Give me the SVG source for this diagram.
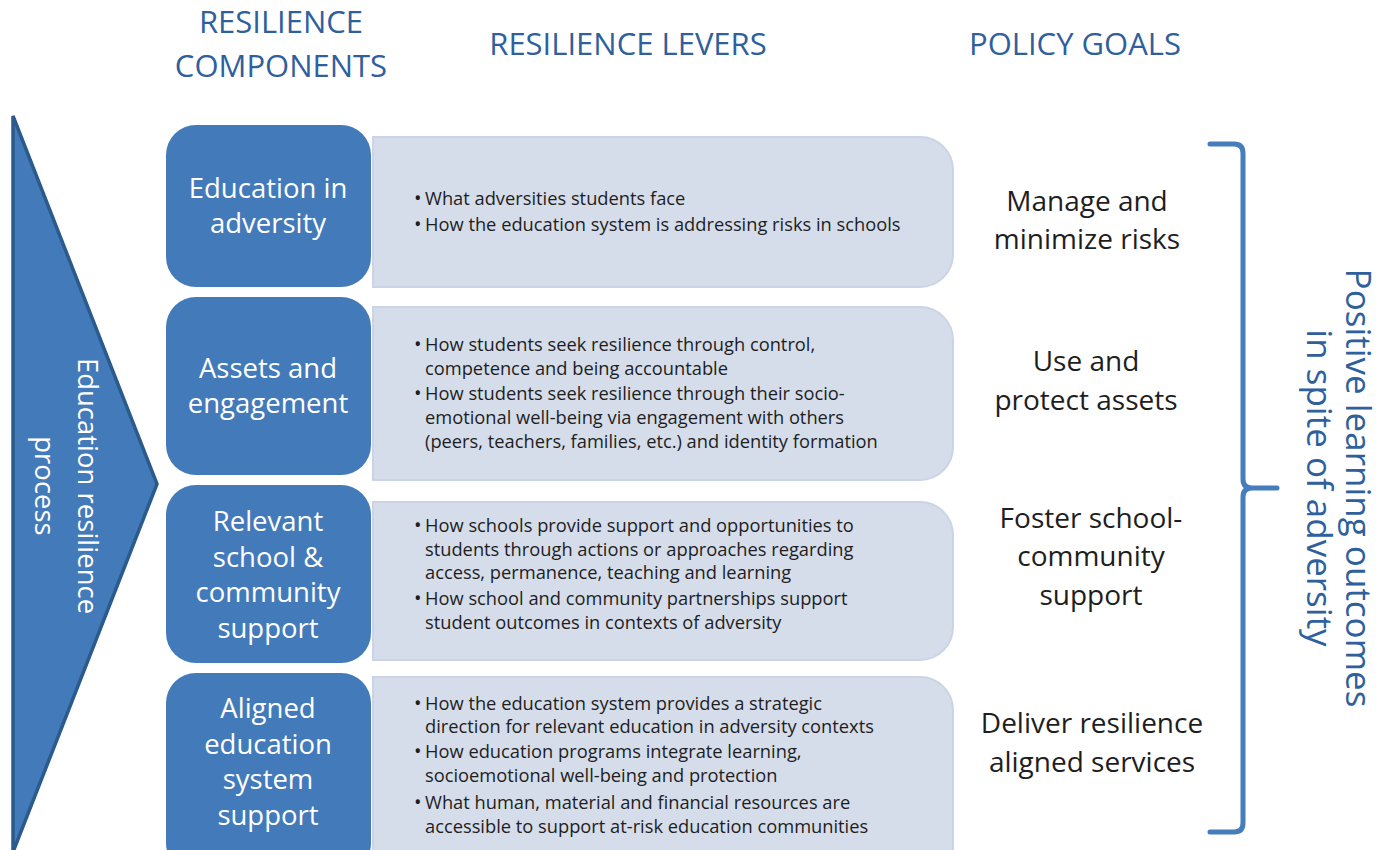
<svg xmlns="http://www.w3.org/2000/svg" width="1392" height="850" viewBox="0 0 1392 850">
<style>
.hdr{font-family:"Open Sans","Noto Sans",sans-serif;font-size:31px;fill:#2f5f9c;text-anchor:middle}
.comp{fill:#437aba}
.ct{font-family:"Open Sans","Noto Sans",sans-serif;font-size:27.5px;fill:#ffffff;text-anchor:middle}
.lev{fill:#d5dcea;stroke:#cbd4e6;stroke-width:2}
.lt{font-family:"Open Sans","Noto Sans",sans-serif;font-size:18.3px;fill:#1e1e1e}
.b{font-size:20px}
.goal{font-family:"Open Sans","Noto Sans",sans-serif;font-size:28px;fill:#1e1e1e;text-anchor:middle}
.side{font-family:"Open Sans","Noto Sans",sans-serif;fill:#2f5f9c;text-anchor:middle}
</style>
<rect width="1392" height="850" fill="#ffffff"/>
<g id="headers">
<text class="hdr" x="281" y="33">RESILIENCE</text>
<text class="hdr" x="281" y="77">COMPONENTS</text>
<text class="hdr" x="628" y="55">RESILIENCE LEVERS</text>
<text class="hdr" x="1075" y="55">POLICY GOALS</text>
</g>
<g id="process">
<path d="M13,116 L157,484 L13,852 Z" fill="#437aba" stroke="#2b5a8c" stroke-width="3.5" stroke-linejoin="miter"/>
<g transform="translate(0,486) rotate(90)">
<text class="side" x="0" y="-78" style="font-size:27.5px;fill:#ffffff">Education resilience</text>
<text class="side" x="0" y="-35" style="font-size:27.5px;fill:#ffffff">process</text>
</g>
</g>
<g id="levers">
<path class="lev" d="M373,137 H920 A33,33 0 0 1 953,170 V254 A33,33 0 0 1 920,287 H373 Z"/>
<path class="lev" d="M373,307 H920 A33,33 0 0 1 953,340 V447 A33,33 0 0 1 920,480 H373 Z"/>
<path class="lev" d="M373,502 H920 A33,33 0 0 1 953,535 V627 A33,33 0 0 1 920,660 H373 Z"/>
<path class="lev" d="M373,677 H920 A33,33 0 0 1 953,710 V860 H373 Z"/>
</g>
<g id="comp1">
<rect class="comp" x="166" y="125" width="205" height="162" rx="30"/>
<text class="ct" x="268" y="198">Education in</text>
<text class="ct" x="268" y="233">adversity</text>
</g>
<g id="comp2">
<rect class="comp" x="166" y="297" width="205" height="178" rx="30"/>
<text class="ct" x="268" y="378">Assets and</text>
<text class="ct" x="268" y="413">engagement</text>
</g>
<g id="comp3">
<rect class="comp" x="166" y="485" width="205" height="178" rx="30"/>
<text class="ct" x="268" y="531">Relevant</text>
<text class="ct" x="268" y="567">school &amp;</text>
<text class="ct" x="268" y="602">community</text>
<text class="ct" x="268" y="638">support</text>
</g>
<g id="comp4">
<rect class="comp" x="166" y="673" width="205" height="200" rx="30"/>
<text class="ct" x="268" y="718">Aligned</text>
<text class="ct" x="268" y="754">education</text>
<text class="ct" x="268" y="789">system</text>
<text class="ct" x="268" y="825">support</text>
</g>
<g id="lever-text">
<text class="lt" x="414" y="205"><tspan class="b">•</tspan><tspan x="425">What adversities students face</tspan></text>
<text class="lt" x="414" y="231"><tspan class="b">•</tspan><tspan x="425">How the education system is addressing risks in schools</tspan></text>
<text class="lt" x="414" y="351"><tspan class="b">•</tspan><tspan x="425">How students seek resilience through control,</tspan></text>
<text class="lt" x="425" y="375">competence and being accountable</text>
<text class="lt" x="414" y="400"><tspan class="b">•</tspan><tspan x="425">How students seek resilience through their socio-</tspan></text>
<text class="lt" x="425" y="424">emotional well-being via engagement with others</text>
<text class="lt" x="425" y="448">(peers, teachers, families, etc.) and identity formation</text>
<text class="lt" x="414" y="532"><tspan class="b">•</tspan><tspan x="425">How schools provide support and opportunities to</tspan></text>
<text class="lt" x="425" y="556">students through actions or approaches regarding</text>
<text class="lt" x="425" y="579">access, permanence, teaching and learning</text>
<text class="lt" x="414" y="605"><tspan class="b">•</tspan><tspan x="425">How school and community partnerships support</tspan></text>
<text class="lt" x="425" y="629">student outcomes in contexts of adversity</text>
<text class="lt" x="414" y="710"><tspan class="b">•</tspan><tspan x="425">How the education system provides a strategic</tspan></text>
<text class="lt" x="425" y="733">direction for relevant education in adversity contexts</text>
<text class="lt" x="414" y="758"><tspan class="b">•</tspan><tspan x="425">How education programs integrate learning,</tspan></text>
<text class="lt" x="425" y="782">socioemotional well-being and protection</text>
<text class="lt" x="414" y="809"><tspan class="b">•</tspan><tspan x="425">What human, material and financial resources are</tspan></text>
<text class="lt" x="425" y="833">accessible to support at-risk education communities</text>
</g>
<g id="goals">
<text class="goal" x="1087" y="211">Manage and</text>
<text class="goal" x="1087" y="249">minimize risks</text>
<text class="goal" x="1086" y="371">Use and</text>
<text class="goal" x="1086" y="410">protect assets</text>
<text class="goal" x="1091" y="528">Foster school-</text>
<text class="goal" x="1091" y="566">community</text>
<text class="goal" x="1091" y="605">support</text>
<text class="goal" x="1092" y="733">Deliver resilience</text>
<text class="goal" x="1092" y="772">aligned services</text>
</g>
<g id="connectors">
<path d="M1210,144 H1234 Q1243,144 1243,153 V479 Q1243,488 1252,488 H1277 M1243,497 Q1243,488 1252,488 M1243,497 V823 Q1243,832 1234,832 H1210" fill="none" stroke="#457dbd" stroke-width="5" stroke-linecap="round"/>
</g>
<g id="outcome">
<g transform="translate(0,488) rotate(90)">
<text class="side" x="0" y="-1346" style="font-size:35px">Positive learning outcomes</text>
<text class="side" x="0" y="-1307" style="font-size:35px">in spite of adversity</text>
</g>
</g>
</svg>
